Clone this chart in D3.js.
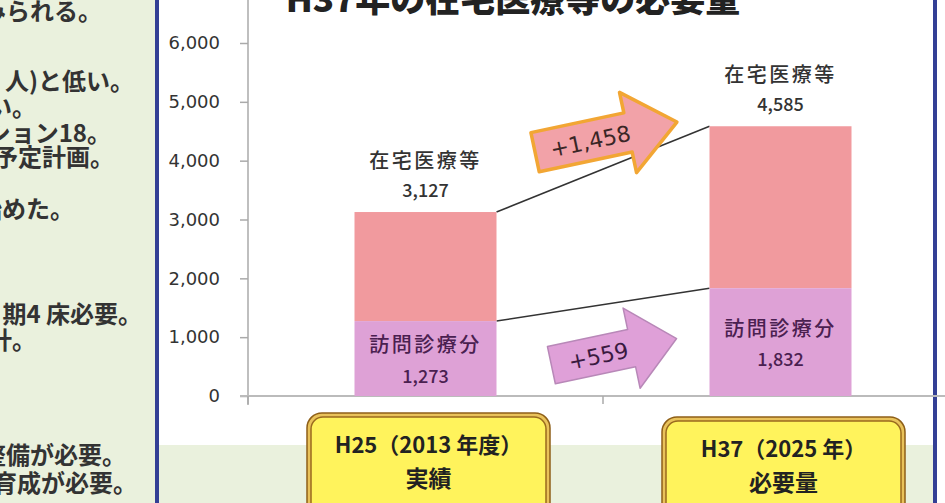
<!DOCTYPE html>
<html>
<head>
<meta charset="utf-8">
<script src="https://cdn.jsdelivr.net/npm/d3@7"></script>
<style>
  html, body { margin: 0; padding: 0; background: #fff; }
  svg { display: block; }
</style>
</head>
<body>
<div id="chart"></div>
<script>
// categories and values
const categories = ["H25", "H37"];
const catLine1 = ["H25（2013 年度）", "H37（2025 年）"];
const catLine2 = ["実績", "必要量"];
const totalCare = [3127, 4585];   // 在宅医療等
const visitCare = [1273, 1832];   // 訪問診療分
const segNames = ["在宅医療等", "訪問診療分"];
const yTicks = [0, 1000, 2000, 3000, 4000, 5000, 6000];
const titleText = "H37年の在宅医療等の必要量";
const sideLines = ["みられる。", "人)と低い。", "い。", "ション18。", "予定計画。",
  "始めた。", "期4 床必要。", "計。", "整備が必要。", "の育成が必要。"];

const width = 945, height = 503;
const jp = "'Noto Sans CJK JP', sans-serif";

const svg = d3.select("#chart").append("svg")
  .attr("width", width).attr("height", height);

// background panels
svg.append("rect").attr("x", 0).attr("y", 0).attr("width", 157).attr("height", height).attr("fill", "#eaf1dd");
svg.append("rect").attr("x", 157).attr("y", 445).attr("width", 778).attr("height", 58).attr("fill", "#eaf1dd");

// left panel text (cut off at the left edge)
const sideY = [9, 79, 105, 131, 155, 207, 312, 338, 453, 481];
const sideEnd = [102, 134, 36, 111, 114, 74, 142, 36, 126, 137];
svg.append("g").selectAll("text").data(sideLines).join("text")
  .attr("x", (d, i) => sideEnd[i])
  .attr("y", (d, i) => sideY[i])
  .attr("text-anchor", "end")
  .attr("dominant-baseline", "central")
  .attr("font-family", jp).attr("font-weight", 700).attr("font-size", 24)
  .attr("fill", "#333")
  .text(d => d);

// blue frame lines
svg.append("rect").attr("x", 155).attr("y", 0).attr("width", 4).attr("height", height).attr("fill", "#333f95");
svg.append("rect").attr("x", 933).attr("y", 0).attr("width", 4).attr("height", height).attr("fill", "#333f95");

// title (only its lower half is in view)
svg.append("text")
  .attr("x", 513).attr("y", 12)
  .attr("text-anchor", "middle")
  .attr("font-family", jp).attr("font-weight", 900).attr("font-size", 35)
  .attr("fill", "#222")
  .text(titleText);

// scales
const x = d3.scaleBand().domain(categories).range([248, 958]).padding(0);
const y = d3.scaleLinear().domain([0, 6000]).range([396, 43]);
const bw = x.bandwidth() * 0.4;
const cx = c => x(c) + x.bandwidth() / 2;

// y axis
svg.append("line").attr("x1", 248).attr("x2", 248).attr("y1", 0).attr("y2", 405)
  .attr("stroke", "#aaa").attr("stroke-width", 1.5);
const yAxis = svg.append("g")
  .attr("transform", "translate(248,0)")
  .call(d3.axisLeft(y).tickValues(yTicks).tickSize(8).tickPadding(20).tickFormat(d3.format(",")));
yAxis.select(".domain").remove();
yAxis.selectAll(".tick line").attr("stroke", "#aaa").attr("stroke-width", 1.5);
yAxis.selectAll(".tick text").attr("font-family", "'DejaVu Sans', sans-serif")
  .attr("font-size", 18).attr("fill", "#333");

// x axis
svg.append("line").attr("x1", 240).attr("x2", width).attr("y1", y(0)).attr("y2", y(0))
  .attr("stroke", "#bbb").attr("stroke-width", 2);
const xTickPos = categories.map(c => x(c)).concat([x(categories[1]) + x.bandwidth()]);
svg.append("g").selectAll("line").data(xTickPos).join("line")
  .attr("x1", d => d).attr("x2", d => d)
  .attr("y1", y(0)).attr("y2", y(0) + 8)
  .attr("stroke", "#aaa").attr("stroke-width", 1.5);

// connector lines between bars
const links = [totalCare, visitCare];
svg.append("g").selectAll("line").data(links).join("line")
  .attr("x1", cx(categories[0]) + bw / 2).attr("y1", d => y(d[0]))
  .attr("x2", cx(categories[1]) - bw / 2).attr("y2", d => y(d[1]))
  .attr("stroke", "#333").attr("stroke-width", 1.5);

// stacked bars
const bars = svg.append("g");
bars.selectAll("rect.top").data(categories).join("rect")
  .attr("class", "top")
  .attr("x", c => cx(c) - bw / 2).attr("width", bw)
  .attr("y", (c, i) => y(totalCare[i]))
  .attr("height", (c, i) => y(visitCare[i]) - y(totalCare[i]))
  .attr("fill", "#f19a9e");
bars.selectAll("rect.bot").data(categories).join("rect")
  .attr("class", "bot")
  .attr("x", c => cx(c) - bw / 2).attr("width", bw)
  .attr("y", (c, i) => y(visitCare[i]))
  .attr("height", (c, i) => y(0) - y(visitCare[i]))
  .attr("fill", "#dea1d6");

// labels above and inside bars
const lab = svg.append("g").attr("font-family", jp).attr("text-anchor", "middle")
  .attr("dominant-baseline", "central").attr("font-weight", 500);
categories.forEach((c, i) => {
  lab.append("text").attr("x", cx(c)).attr("y", y(totalCare[i]) - 53)
    .attr("font-size", 20).attr("letter-spacing", 2.5).attr("fill", "#333").text(segNames[0]);
  lab.append("text").attr("x", cx(c)).attr("y", y(totalCare[i]) - 23)
    .attr("font-size", 18).attr("fill", "#333").text(d3.format(",")(totalCare[i]));
  const mid = (y(visitCare[i]) + y(0)) / 2;
  lab.append("text").attr("x", cx(c)).attr("y", mid - 15)
    .attr("font-size", 20).attr("letter-spacing", 2.5).attr("fill", "#4a2050").text(segNames[1]);
  lab.append("text").attr("x", cx(c)).attr("y", mid + 16)
    .attr("font-size", 18).attr("fill", "#4a2050").text(d3.format(",")(visitCare[i]));
});

// increase arrows
function arrowPath(L, hs, hh, hl) {
  const a = -L / 2, b = L / 2, c = b - hl;
  return `M${a},${-hs}L${c},${-hs}L${c},${-hh}L${b},0L${c},${hh}L${c},${hs}L${a},${hs}Z`;
}
const arrows = [
  { diff: totalCare[1] - totalCare[0], v: 4400, dx: 3, L: 145, hs: 20, hh: 41, hl: 50,
    fill: "#f2a2a8", stroke: "#f2a634", sw: 3.5, ink: "#3a2626" },
  { diff: visitCare[1] - visitCare[0], v: 750, dx: 11, L: 128, hs: 19, hh: 41, hl: 46,
    fill: "#dfa0d8", stroke: "#b888b8", sw: 1.5, ink: "#3a1a40" }
];
const boundary = x(categories[1]);
arrows.forEach(a => {
  const g = svg.append("g")
    .attr("transform", `translate(${boundary + a.dx},${y(a.v)}) rotate(-12)`);
  g.append("path").attr("d", arrowPath(a.L, a.hs, a.hh, a.hl))
    .attr("fill", a.fill).attr("stroke", a.stroke).attr("stroke-width", a.sw)
    .attr("stroke-linejoin", "round");
  g.append("text").attr("x", -16).attr("y", 1)
    .attr("text-anchor", "middle").attr("dominant-baseline", "central")
    .attr("font-family", "'DejaVu Sans', sans-serif").attr("font-size", 22)
    .attr("fill", a.ink)
    .text("+" + d3.format(",")(a.diff));
});

// category boxes
const boxTop = [413, 417];
const boxW = 243;
categories.forEach((c, i) => {
  const g = svg.append("g").attr("transform", `translate(${cx(c) - boxW / 2 + 3},${boxTop[i]})`);
  g.append("rect").attr("width", boxW).attr("height", 110).attr("rx", 15)
    .attr("fill", "#e9c25a").attr("stroke", "#8e5f18").attr("stroke-width", 1.5);
  g.append("rect").attr("x", 4).attr("y", 4).attr("width", boxW - 8).attr("height", 102).attr("rx", 12)
    .attr("fill", "#fff35c").attr("stroke", "#9a6a1e").attr("stroke-width", 1.5);
  g.append("text").attr("x", boxW / 2).attr("y", 30)
    .attr("text-anchor", "middle").attr("dominant-baseline", "central")
    .attr("font-family", jp).attr("font-weight", 700).attr("font-size", 22).attr("fill", "#222")
    .text(catLine1[i]);
  g.append("text").attr("x", boxW / 2).attr("y", 64)
    .attr("text-anchor", "middle").attr("dominant-baseline", "central")
    .attr("font-family", jp).attr("font-weight", 700).attr("font-size", 23).attr("fill", "#222")
    .text(catLine2[i]);
});
</script>
</body>
</html>
